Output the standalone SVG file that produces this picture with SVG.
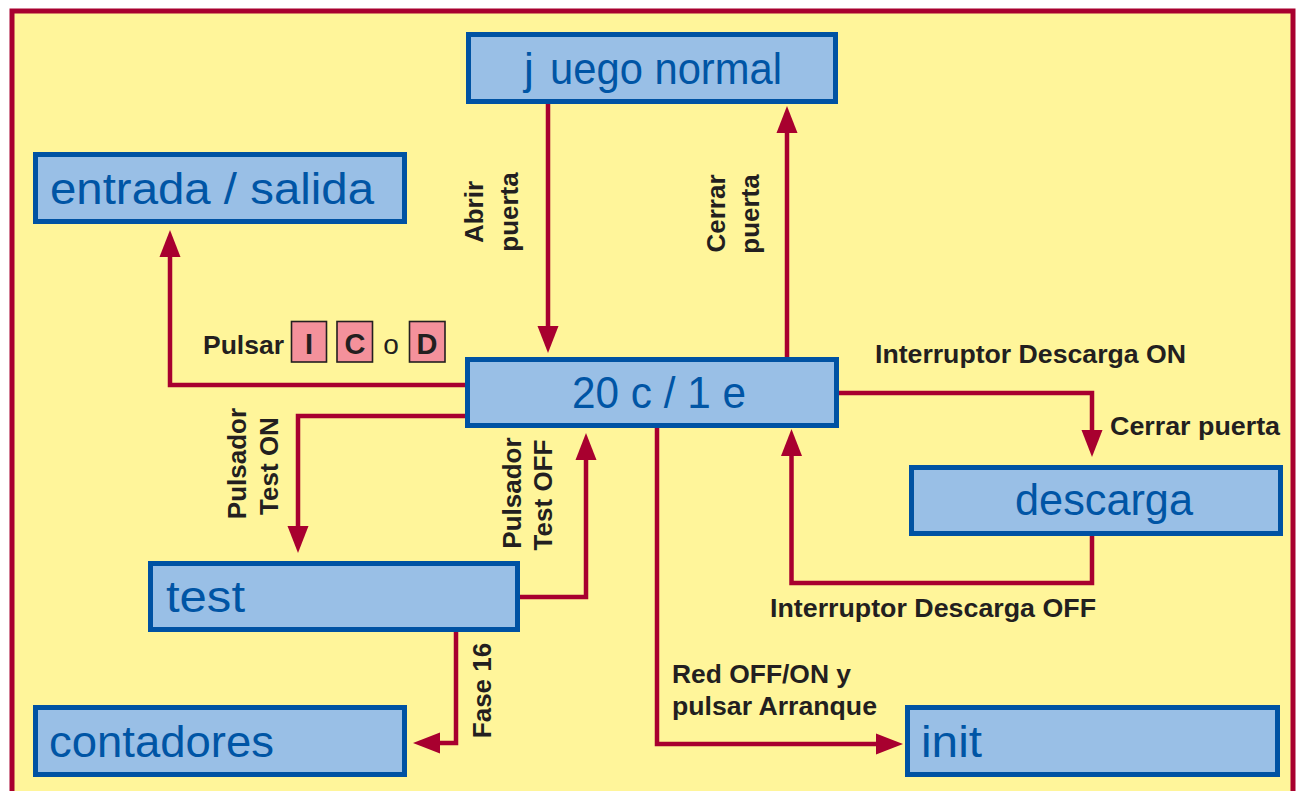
<svg xmlns="http://www.w3.org/2000/svg" width="1300" height="791" viewBox="0 0 1300 791">
<style>
.node rect{fill:#99BFE6;stroke:#0052A3;stroke-width:5}
.nt{font-family:"Liberation Sans Narrow","Liberation Sans",Arial,sans-serif;font-size:44px;fill:#0055A5}
.lb{font-family:"Liberation Sans",Arial,sans-serif;font-size:26.5px;font-weight:bold;fill:#231F20}
.rl{font-family:"Liberation Sans",Arial,sans-serif;font-size:26px;font-weight:bold;fill:#231F20;text-anchor:middle}
.key{fill:#F4919B;stroke:#231F20;stroke-width:1.6}
.kt{font-family:"Liberation Sans",Arial,sans-serif;font-size:29px;font-weight:bold;fill:#231F20;text-anchor:middle}
.conn path{fill:none;stroke:#A8002F;stroke-width:4.5}
</style>
<defs>
<marker id="ah" markerUnits="userSpaceOnUse" markerWidth="30" markerHeight="24" viewBox="0 -12 30 24" refX="1" refY="0" orient="auto">
<path d="M0,-10.5 L27,0 L0,10.5 z" fill="#A8002F"/>
</marker>
</defs>
<rect x="0" y="0" width="1300" height="791" fill="#FFFFFF"/>
<rect id="frame" x="12" y="11" width="1281" height="800" fill="#FFF59A" stroke="#A8002F" stroke-width="5"/>

<g id="connectors" class="conn">
<path d="M548,104 V327" marker-end="url(#ah)"/>
<path d="M787,357 V132" marker-end="url(#ah)"/>
<path d="M465,385 H170 V256" marker-end="url(#ah)"/>
<path d="M465,416 H298 V527" marker-end="url(#ah)"/>
<path d="M520,597 H586 V459" marker-end="url(#ah)"/>
<path d="M456,632 V743 H439" marker-end="url(#ah)"/>
<path d="M839,393 H1092 V431" marker-end="url(#ah)"/>
<path d="M1092,536 V583 H791.5 V455" marker-end="url(#ah)"/>
<path d="M657,428 V744 H877" marker-end="url(#ah)"/>
</g>

<g id="juego-normal" class="node">
<rect x="468.5" y="34.5" width="367" height="67"/>
<text class="nt" x="524" y="84">j<tspan x="550" textLength="232" lengthAdjust="spacingAndGlyphs">uego normal</tspan></text>
</g>
<g id="entrada-salida" class="node">
<rect x="35.5" y="154.5" width="369" height="67"/>
<text class="nt" x="50" y="204" textLength="324" lengthAdjust="spacingAndGlyphs">entrada / salida</text>
</g>
<g id="n20c1e" class="node">
<rect x="467.5" y="359.5" width="369" height="66"/>
<text class="nt" x="572" y="408" textLength="174" lengthAdjust="spacingAndGlyphs">20 c / 1 e</text>
</g>
<g id="descarga" class="node">
<rect x="911.5" y="467.5" width="369" height="66"/>
<text class="nt" x="1015" y="515" textLength="178" lengthAdjust="spacingAndGlyphs">descarga</text>
</g>
<g id="test" class="node">
<rect x="150.5" y="563.5" width="367" height="66"/>
<text class="nt" x="166" y="611.5" textLength="79" lengthAdjust="spacingAndGlyphs">test</text>
</g>
<g id="contadores" class="node">
<rect x="35.5" y="707.5" width="369" height="67"/>
<text class="nt" x="49" y="756.5" textLength="225" lengthAdjust="spacingAndGlyphs">contadores</text>
</g>
<g id="init" class="node">
<rect x="907.5" y="707.5" width="370" height="67"/>
<text class="nt" x="921" y="756.5" textLength="61" lengthAdjust="spacingAndGlyphs">init</text>
</g>

<g id="labels">
<text class="lb" x="203" y="354">Pulsar</text>
<rect class="key" x="291.5" y="321.5" width="35" height="40.5"/>
<text class="kt" x="309" y="353.5">I</text>
<rect class="key" x="337" y="321.5" width="35.5" height="40.5"/>
<text class="kt" x="355" y="353.5">C</text>
<text x="391" y="354" font-family="Liberation Sans, Arial, sans-serif" font-size="28" fill="#231F20" text-anchor="middle">o</text>
<rect class="key" x="409.5" y="321.5" width="35.5" height="40.5"/>
<text class="kt" x="427" y="353.5">D</text>

<text class="rl" transform="translate(483,212) rotate(-90)">Abrir</text>
<text class="rl" transform="translate(518,212) rotate(-90)">puerta</text>
<text class="rl" transform="translate(725,213.5) rotate(-90)">Cerrar</text>
<text class="rl" transform="translate(758.5,214) rotate(-90)">puerta</text>
<text class="rl" transform="translate(246,463.5) rotate(-90)">Pulsador</text>
<text class="rl" transform="translate(277.5,466) rotate(-90)">Test ON</text>
<text class="rl" transform="translate(521,493) rotate(-90)">Pulsador</text>
<text class="rl" transform="translate(552,495) rotate(-90)">Test OFF</text>
<text class="rl" transform="translate(490.5,690.5) rotate(-90)">Fase 16</text>

<text class="lb" x="875" y="363" textLength="311" lengthAdjust="spacingAndGlyphs">Interruptor Descarga ON</text>
<text class="lb" x="1110" y="435" textLength="170" lengthAdjust="spacingAndGlyphs">Cerrar puerta</text>
<text class="lb" x="770" y="616.5" textLength="326" lengthAdjust="spacingAndGlyphs">Interruptor Descarga OFF</text>
<text class="lb" x="672" y="683" textLength="179" lengthAdjust="spacingAndGlyphs">Red OFF/ON y</text>
<text class="lb" x="672" y="715" textLength="205" lengthAdjust="spacingAndGlyphs">pulsar Arranque</text>
</g>
</svg>
